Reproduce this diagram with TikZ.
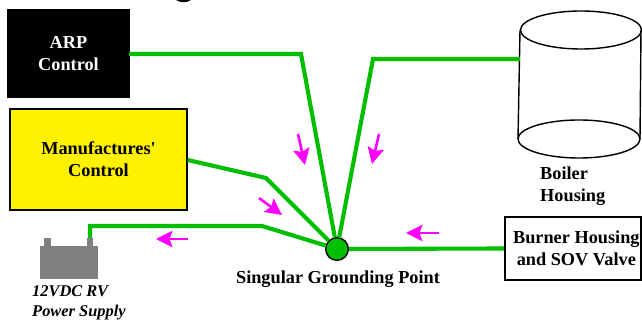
\documentclass[tikz,border=0pt]{standalone}
\usepackage{fontspec}
\setmainfont{Liberation Serif}
\usetikzlibrary{arrows.meta,positioning}
\definecolor{wiregreen}{RGB}{0,190,0}
\definecolor{flowpink}{RGB}{255,0,255}
\definecolor{battgray}{RGB}{128,128,128}
\begin{document}
\begin{tikzpicture}[x=0.03cm,y=-0.03cm,
  box/.style={draw,align=center,font=\fontsize{15.6}{18.8}\selectfont\bfseries,inner sep=0pt},
  lbl/.style={align=left,font=\fontsize{15.6}{18.8}\selectfont\bfseries,inner sep=0pt},
  wire/.style={draw=wiregreen,line width=3.5pt},
  flow/.style={draw=flowpink,line width=2.2pt,-{Stealth[length=14pt,width=14pt,inset=2.5pt]}},
  outline/.style={draw=black,line width=1.2pt}]
\useasboundingbox (0,0) rectangle (642,321);
\fill (176,0) .. controls (180,3) and (187,3) .. (191,0) -- cycle;
% boxes
\node[box,fill=black,text=white,minimum width=3.63cm,minimum height=2.64cm,line width=0pt] (arp) at (68.5,54) {ARP\\Control};
\node[box,fill=yellow,line width=1.3pt,minimum width=5.31cm,minimum height=3.03cm] (mfr) at (98.5,159.5) {Manufactures\textquotesingle\\Control};
\node[box,line width=1.3pt,minimum width=4.08cm,minimum height=1.89cm] (burner) at (573,248.5) {\hspace*{0.2cm}Burner Housing\\\hspace*{0.2cm}and SOV Valve};
% battery
\node[fill=battgray,minimum width=1.74cm,minimum height=0.99cm,inner sep=0pt] (batt) at (69,262.5) {};
\node[fill=battgray,minimum width=0.2cm,minimum height=0.24cm,inner sep=0pt,above=0pt of batt.north west,xshift=0.12cm,anchor=south west] (neg) {};
\node[fill=battgray,minimum width=0.2cm,minimum height=0.24cm,inner sep=0pt] (pos) at (90,242) {};
% boiler
\draw[outline] (520,30) -- (518,139);
\draw[outline] (641,30) -- (640,139);
\draw[outline] (581,30) ellipse [x radius=60.5,y radius=19];
\draw[outline] (579,139) ellipse [x radius=61,y radius=19];
\coordinate (boil) at (520,59);
% ground point
\node[circle,fill=wiregreen,draw=black,line width=1.2pt,minimum size=0.68cm,inner sep=0pt] (gnd) at (337,249) {};
% bends
\coordinate (arpb) at (301,54);
\coordinate (boilb) at (373,59);
\coordinate (mfrb) at (266,178);
\coordinate (battb) at (262,226);
\coordinate (posb) at (90,226);
% wires
\draw[wire] (arp.east) -- (arpb) -- (gnd);
\draw[wire] (boil) -- (boilb) -- (gnd);
\draw[wire] (mfr.east |- 0,160) -- (mfrb) -- (gnd);
\draw[wire] (pos.north) -- (posb) -- (battb) -- (gnd);
\draw[wire] (burner.west) -- (gnd);
% flow arrows
\coordinate (f1a) at (298,134); \coordinate (f1b) at (305,165);
\coordinate (f2a) at (379,134); \coordinate (f2b) at (372,164);
\coordinate (f3a) at (259,198); \coordinate (f3b) at (282,215);
\coordinate (f4a) at (188,239); \coordinate (f4b) at (156,239);
\coordinate (f5a) at (439,233); \coordinate (f5b) at (406,233);
\draw[flow] (f1a) -- (f1b);
\draw[flow] (f2a) -- (f2b);
\draw[flow] (f3a) -- (f3b);
\draw[flow] (f4a) -- (f4b);
\draw[flow] (f5a) -- (f5b);
% labels
\node[lbl,anchor=west] (boillbl) at (540,186) {Boiler\\Housing};
\node[lbl] (gndlbl) at (338,279) {Singular Grounding Point};
\node[lbl,anchor=west,font=\fontsize{14}{17}\selectfont\bfseries\itshape] (battlbl) at (32,303) {12VDC RV\\Power Supply};
\end{tikzpicture}
\end{document}
